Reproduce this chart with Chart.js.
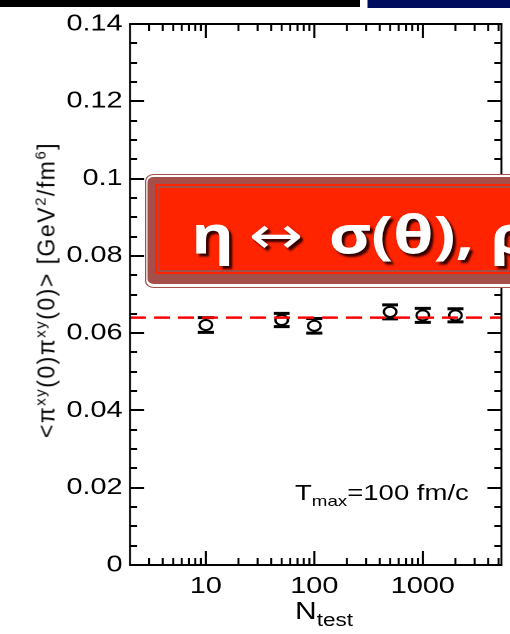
<!DOCTYPE html>
<html>
<head>
<meta charset="utf-8">
<script src="https://cdn.jsdelivr.net/npm/chart.js@4.4.1/dist/chart.umd.min.js"></script>
<style>
  body { margin: 0; background: #fff; }
  #page { position: relative; width: 510px; height: 634px; overflow: hidden;
          font-family: "Liberation Sans", Arial, sans-serif; color: #000; }
  /* the original picture is stretched sideways by about 1.25 */
  #wrap { position: absolute; left: 0; top: 0; width: 408px; height: 634px;
          transform: scaleX(1.25); transform-origin: 0 0; }
  #chart { position: absolute; left: 0; top: 0; }
  .abs { position: absolute; white-space: nowrap; }
  #barBlack { left: 0; top: 0; width: 288px; height: 7px; background: #000; }
  #barBlue { left: 293.6px; top: 0; width: 120px; height: 8px; background: #000c5e; }
  #ytitle { left: 47px; top: 290px; font-size: 23px; letter-spacing: 1.5px;
            transform: translate(-50%, -50%) rotate(-90deg); }
  #ytitle sup { font-size: 15px; vertical-align: 9px; line-height: 0; }
  #xtitle { left: 236px; top: 597px; font-size: 24px; }
  #xtitle sub { font-size: 18px; vertical-align: -7px; line-height: 0; }
  #tmax { left: 236px; top: 480px; font-size: 22px; }
  #tmax sub { font-size: 15px; vertical-align: -6px; line-height: 0; }
  .box { position: absolute; }
  #bA { left: 116px; top: 174px; width: 330px; height: 112px; border: 1.5px solid #a44f49;
        border-radius: 7px; background: #fff; }
  #bB { left: 118.4px; top: 177px; width: 330px; height: 107px; background: #a44f49; border-radius: 5px; }
  #bC { left: 124px; top: 184px; width: 330px; height: 90px; background: #ff2400; }
  #bD { left: 125.6px; top: 186px; width: 330px; height: 86px; background: #a44f49; }
  #bE { left: 127.2px; top: 188px; width: 330px; height: 82px; background: #ff2400; }
  .ban { position: absolute; white-space: nowrap; color: #fff; line-height: 1.2;
         font-size: 52px; text-shadow: 2.4px 3px 2px #300; }
  #b1, #b3 { font-family: "Open Sans", sans-serif; font-weight: 700; top: 202px; }
  #b1 { left: 153px; }
  #b2 { left: 199px; top: 204px; font-family: "DejaVu Sans", sans-serif; font-weight: 400; }
  #b3 { left: 263px; }
</style>
</head>
<body>
<div id="page">
  <div id="wrap">
    <canvas id="chart" width="408" height="634"></canvas>
    <div class="abs" id="barBlack"></div>
    <div class="abs" id="barBlue"></div>
    <div class="abs" id="xtitle">N<sub>test</sub></div>
    <div class="abs" id="tmax">T<sub>max</sub>=100 fm/c</div>
    <div class="box" id="bA"></div>
    <div class="box" id="bB"></div>
    <div class="box" id="bC"></div>
    <div class="box" id="bD"></div>
    <div class="box" id="bE"></div>
    <div class="ban" id="b1">&eta;</div>
    <div class="ban" id="b2">&harr;</div>
    <div class="ban" id="b3">&sigma;(&theta;), &rho;</div>
  </div>
  <div class="abs" id="ytitle">&lt;&pi;<sup>xy</sup>(0)&pi;<sup>xy</sup>(0)&gt; [GeV<sup>2</sup>/fm<sup>6</sup>]</div>
</div>
<script>
// test particle numbers and measured correlator
const nTest = [10, 50, 100, 500, 1000, 2000];
const corr = [0.0621, 0.0634, 0.0619, 0.0655, 0.0646, 0.0646];
const corrErr = [0.0019, 0.0017, 0.0019, 0.0018, 0.0018, 0.0017];

// reference value (dashed line)
const refLevel = 0.064;

// axes
const xRange = [2, 5300];
const xTickLabels = [10, 100, 1000];
const yRange = [0, 0.14];
const yTicks = [0, 0.02, 0.04, 0.06, 0.08, 0.1, 0.12, 0.14];
const yMinorStep = 0.005;

const fontFam = '"Liberation Sans", Arial, sans-serif';

// error bars under the markers
const errorBars = {
  id: 'errorBars',
  beforeDatasetsDraw(chart) {
    const ctx = chart.ctx;
    const x = chart.scales.x, y = chart.scales.y;
    ctx.save();
    ctx.strokeStyle = '#000';
    nTest.forEach((n, i) => {
      const px = x.getPixelForValue(n);
      const top = y.getPixelForValue(corr[i] + corrErr[i]);
      const bot = y.getPixelForValue(corr[i] - corrErr[i]);
      ctx.lineWidth = 1.6;
      ctx.beginPath();
      ctx.moveTo(px, top);
      ctx.lineTo(px, bot);
      ctx.stroke();
      ctx.lineWidth = 3;
      ctx.beginPath();
      ctx.moveTo(px - 6.4, top); ctx.lineTo(px + 6.4, top);
      ctx.moveTo(px - 6.4, bot); ctx.lineTo(px + 6.4, bot);
      ctx.stroke();
    });
    ctx.restore();
  }
};

// box frame with inward ticks on all four sides
const frameTicks = {
  id: 'frameTicks',
  afterDraw(chart) {
    const ctx = chart.ctx;
    const a = chart.chartArea;
    const x = chart.scales.x, y = chart.scales.y;
    ctx.save();
    ctx.strokeStyle = '#000';

    // horizontal parts: top/bottom lines and y ticks
    ctx.lineWidth = 2;
    ctx.beginPath();
    ctx.moveTo(a.left - 0.8, a.top); ctx.lineTo(a.right + 0.8, a.top);
    ctx.moveTo(a.left - 0.8, a.bottom); ctx.lineTo(a.right + 0.8, a.bottom);
    const nMinor = Math.round((yRange[1] - yRange[0]) / yMinorStep);
    for (let k = 0; k <= nMinor; k++) {
      const v = yRange[0] + k * yMinorStep;
      const py = Math.round(y.getPixelForValue(v));
      const len = (k % 4 === 0) ? 11.2 : 5.6;
      ctx.moveTo(a.left, py); ctx.lineTo(a.left + len, py);
      ctx.moveTo(a.right, py); ctx.lineTo(a.right - len, py);
    }
    ctx.stroke();

    // vertical parts: left/right lines and x ticks
    ctx.lineWidth = 1.6;
    ctx.beginPath();
    ctx.moveTo(a.left, a.top); ctx.lineTo(a.left, a.bottom);
    ctx.moveTo(a.right, a.top); ctx.lineTo(a.right, a.bottom);
    for (let dec = 1; dec <= 1000; dec *= 10) {
      for (let m = 1; m <= 9; m++) {
        const v = m * dec;
        if (v < xRange[0] || v > xRange[1]) continue;
        const px = x.getPixelForValue(v);
        const len = (m === 1) ? 14 : 7;
        ctx.moveTo(px, a.bottom); ctx.lineTo(px, a.bottom - len);
        ctx.moveTo(px, a.top); ctx.lineTo(px, a.top + len);
      }
    }
    ctx.stroke();
    ctx.restore();
  }
};

new Chart(document.getElementById('chart'), {
  type: 'scatter',
  data: {
    datasets: [
      {
        type: 'line',
        data: [{ x: xRange[0], y: refLevel }, { x: xRange[1], y: refLevel }],
        borderColor: '#ff0000',
        borderWidth: 2.5,
        borderDash: [12.8, 6.4],
        pointRadius: 0,
        order: 0
      },
      {
        data: nTest.map((n, i) => ({ x: n, y: corr[i] })),
        pointStyle: 'circle',
        pointRadius: 5,
        pointBorderWidth: 1.9,
        borderColor: '#000',
        backgroundColor: '#fff',
        order: 1
      }
    ]
  },
  options: {
    responsive: false,
    animation: false,
    devicePixelRatio: 2,
    layout: { padding: { top: 24, right: 0, bottom: 0, left: 0 } },
    plugins: { legend: { display: false }, tooltip: { enabled: false } },
    scales: {
      x: {
        type: 'logarithmic',
        min: xRange[0],
        max: xRange[1],
        afterBuildTicks: s => { s.ticks = xTickLabels.map(v => ({ value: v })); },
        afterFit: s => { s.height = 69; },
        grid: { display: false, drawTicks: false },
        border: { display: false },
        ticks: {
          autoSkip: false, maxRotation: 0, padding: 8, color: '#000',
          font: { family: fontFam, size: 23 },
          callback: v => String(v)
        }
      },
      y: {
        min: yRange[0],
        max: yRange[1],
        afterBuildTicks: s => { s.ticks = yTicks.map(v => ({ value: v })); },
        afterFit: s => { s.width = 104; },
        grid: { display: false, drawTicks: false },
        border: { display: false },
        ticks: {
          padding: 6, color: '#000',
          font: { family: fontFam, size: 23 },
          callback: v => String(+v.toFixed(2))
        }
      }
    }
  },
  plugins: [errorBars, frameTicks]
});
</script>
</body>
</html>
